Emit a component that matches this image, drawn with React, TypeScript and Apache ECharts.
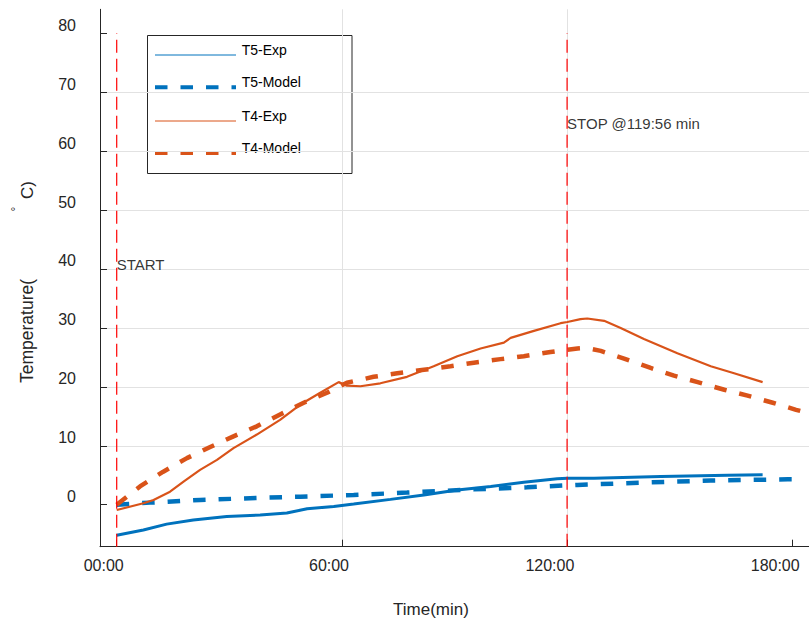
import React, { useEffect, useRef } from 'react';
import * as echarts from 'echarts';

// ---- data (time in minutes, temperature in °C) ----
const t5ExpTime = [0, 7.1, 13.3, 20.4, 29.3, 38.2, 45.3, 50.7, 57.8, 63.1, 72.9, 81.8, 90.7, 99.6, 108.4, 117.3, 120, 127.1, 144.9, 162.7, 172];
const t5ExpTemp = [-5.2, -4.3, -3.3, -2.6, -2.0, -1.75, -1.4, -0.7, -0.3, 0.1, 0.9, 1.65, 2.5, 3.1, 3.8, 4.4, 4.5, 4.5, 4.8, 5.0, 5.06];

const t5ModelTime = [0, 8.9, 22.2, 35.5, 48.9, 63.1, 77.3, 95.1, 109.3, 122.7, 140.4, 158.2, 178.7, 181];
const t5ModelTemp = [0, 0.35, 0.8, 1.1, 1.36, 1.65, 2.05, 2.6, 2.95, 3.36, 3.75, 4.1, 4.3, 4.3];

const t4ExpTime = [0, 7.1, 9.8, 14.2, 17.8, 22.2, 26.7, 31.1, 37.3, 43.5, 48.9, 54.2, 59.1, 61.3, 64.9, 70.2, 77.3, 84.4, 90.7, 96.9, 103.1, 104.9, 111.1, 118.2, 120, 123.5, 125.3, 129.8, 134.2, 140.4, 149.3, 158.2, 164.4, 172];
const t4ExpTemp = [-0.9, 0.24, 0.8, 2.2, 3.9, 5.9, 7.6, 9.6, 11.9, 14.4, 17, 19, 20.8, 20.2, 20.1, 20.6, 21.7, 23.5, 25.2, 26.5, 27.5, 28.3, 29.5, 30.8, 31.0, 31.5, 31.6, 31.2, 30.0, 28.1, 25.7, 23.5, 22.3, 20.8];

const t4ModelTime = [0, 6.2, 12.4, 18.7, 24.9, 31.1, 37.3, 43.5, 49.8, 56, 61.3, 68.4, 74.7, 81.8, 88.9, 95.1, 102.2, 108.4, 115.5, 120, 122.7, 125, 128.9, 135.1, 142.2, 148.4, 154.7, 161.8, 168, 174.7, 180.9, 185];
const t4ModelTemp = [0, 3.1, 5.6, 7.9, 9.8, 11.6, 13.3, 15.3, 17.3, 19.0, 20.7, 21.7, 22.3, 22.9, 23.5, 24.1, 24.7, 25.2, 25.9, 26.3, 26.5, 26.6, 26.1, 24.8, 23.2, 21.9, 20.8, 19.5, 18.5, 17.3, 16.1, 15.4];

const seriesNames = ['T5-Exp', 'T5-Model', 'T4-Exp', 'T4-Model'];

const xTicks = [0, 60, 120, 180];
const yTicks = [0, 10, 20, 30, 40, 50, 60, 70, 80];
const xRange = [-4.45, 184.35];
const yRange = [-7.13, 84.07];

const startTime = 0;
const stopTime = 119.93;
const markerTop = 80;
const startLabel = 'START';
const stopLabel = 'STOP @119:56 min';
const startLabelY = 40.7;
const stopLabelY = 64.7;

const BLUE = '#0072BD';
const ORANGE = '#D95319';
const FONT = 'Liberation Sans, Arial, Helvetica, sans-serif';
const TXT = '#262626';

const zip = (a: number[], b: number[]) => a.map((v, i) => [v, b[i]]);
const fmtTime = (v: number) => `${String(Math.round(v)).padStart(2, '0')}:00`;

// grid geometry
const GRID_LEFT = 100;
const GRID_W = 709;
// x tick labels are drawn right-aligned, 7 px right of their tick (as in the source figure)
const labelShiftMin = 7 / (GRID_W / (xRange[1] - xRange[0]));

export default function App() {
  const ref = useRef<HTMLDivElement>(null);
  useEffect(() => {
    const chart = echarts.init(ref.current!, null, { renderer: 'svg' });
    const modelDash = [12.5, 13];
    const legendRows = [
      { name: seriesNames[0], color: BLUE, width: 1, dash: null as any, y: 55 },
      { name: seriesNames[1], color: BLUE, width: 4, dash: modelDash, y: 87.3 },
      { name: seriesNames[2], color: ORANGE, width: 1, dash: null as any, y: 121 },
      { name: seriesNames[3], color: ORANGE, width: 4, dash: modelDash, y: 153 },
    ];
    const legendChildren: any[] = [
      { type: 'rect', shape: { x: 147.5, y: 35.5, width: 204.5, height: 138 }, style: { fill: '#fff', stroke: TXT, lineWidth: 1 } },
    ];
    legendRows.forEach((r) => {
      legendChildren.push({
        type: 'line',
        shape: { x1: 155, y1: r.y, x2: 236, y2: r.y },
        style: { stroke: r.color, lineWidth: r.width, lineDash: r.dash || undefined, lineCap: 'butt' },
      });
      legendChildren.push({
        type: 'text',
        x: 241.7,
        y: r.y - 5.5,
        style: { text: r.name, fontSize: 14, fontFamily: FONT, fill: '#000', align: 'left', verticalAlign: 'middle' },
      });
    });

    const option: any = {
      animation: false,
      backgroundColor: '#fff',
      grid: { left: GRID_LEFT, right: 0, top: 9.3, bottom: 78.3, containLabel: false, outerBoundsMode: 'none' },
      xAxis: [
        {
          type: 'value',
          min: xRange[0],
          max: xRange[1],
          axisLine: { show: true, onZero: false, lineStyle: { color: TXT, width: 1 } },
          axisTick: { show: true, inside: true, length: 7, customValues: xTicks, lineStyle: { color: TXT } },
          axisLabel: { show: false, customValues: xTicks },
          splitLine: { show: true, showMinLine: false, showMaxLine: false, lineStyle: { color: '#e2e2e2', width: 1 } },
        },
        {
          type: 'value',
          position: 'bottom',
          min: xRange[0] - labelShiftMin,
          max: xRange[1] - labelShiftMin,
          axisLine: { show: false, onZero: false },
          axisTick: { show: false, customValues: xTicks },
          splitLine: { show: false },
          axisLabel: {
            customValues: xTicks,
            formatter: (v: number) => fmtTime(v),
            color: TXT,
            fontSize: 16,
            fontFamily: FONT,
            margin: 11,
            align: 'right',
            hideOverlap: false,
          },
        },
      ],
      yAxis: {
        type: 'value',
        min: yRange[0],
        max: yRange[1],
        axisLine: { show: true, onZero: false, lineStyle: { color: TXT, width: 1 } },
        axisTick: { show: true, inside: true, length: 7, customValues: yTicks, lineStyle: { color: TXT } },
        axisLabel: {
          customValues: yTicks,
          formatter: (v: number) => String(Math.round(v)),
          color: TXT,
          fontSize: 16,
          fontFamily: FONT,
          margin: 24,
          verticalAlign: 'bottom',
          lineHeight: 16,
        },
        splitLine: { show: true, showMinLine: false, showMaxLine: false, lineStyle: { color: '#e2e2e2', width: 1 } },
      },
      series: [
        {
          name: seriesNames[0], type: 'line', data: zip(t5ExpTime, t5ExpTemp), showSymbol: false, silent: true,
          lineStyle: { color: BLUE, width: 3 }, z: 3,
        },
        {
          name: seriesNames[1], type: 'line', data: zip(t5ModelTime, t5ModelTemp), showSymbol: false, silent: true,
          lineStyle: { color: BLUE, width: 4.5, type: modelDash, cap: 'butt' }, z: 3,
        },
        {
          name: seriesNames[2], type: 'line', data: zip(t4ExpTime, t4ExpTemp), showSymbol: false, silent: true,
          lineStyle: { color: ORANGE, width: 2.2 }, z: 3,
        },
        {
          name: seriesNames[3], type: 'line', data: zip(t4ModelTime, t4ModelTemp), showSymbol: false, silent: true,
          lineStyle: { color: ORANGE, width: 4.5, type: modelDash, cap: 'butt' }, z: 3,
        },
        {
          name: 'start', type: 'line', data: [[startTime, yRange[0]], [startTime, markerTop]], showSymbol: false, silent: true,
          lineStyle: { color: '#ff0000', width: 1.2, type: [13, 6] }, z: 4,
        },
        {
          name: 'stop', type: 'line', data: [[stopTime, yRange[0]], [stopTime, markerTop]], showSymbol: false, silent: true,
          lineStyle: { color: '#ff0000', width: 1.2, type: [13, 6] }, z: 4,
        },
        {
          name: 'labels', type: 'scatter', symbolSize: 0, silent: true, z: 5,
          data: [
            { value: [startTime, startLabelY], label: { formatter: startLabel } },
            { value: [stopTime, stopLabelY], label: { formatter: stopLabel } },
          ],
          label: { show: true, position: 'right', distance: 0, color: '#000', fontSize: 15, fontFamily: FONT },
        },
      ],
      graphic: [
        { type: 'group', z: 100, children: legendChildren },
        {
          type: 'text', x: 431, y: 609, z: 100,
          style: { text: 'Time(min)', fontSize: 17, fontFamily: FONT, fill: TXT, align: 'center', verticalAlign: 'middle' },
        },
        {
          type: 'text', x: 27, y: 331, rotation: Math.PI / 2, z: 100,
          style: { text: 'Temperature(', fontSize: 17.5, fontFamily: FONT, fill: TXT, align: 'center', verticalAlign: 'middle' },
        },
        {
          type: 'text', x: 16, y: 209, rotation: Math.PI / 2, z: 100,
          style: { text: '°', fontSize: 12, fontFamily: FONT, fill: TXT, align: 'center', verticalAlign: 'middle' },
        },
        {
          type: 'text', x: 27, y: 190, rotation: Math.PI / 2, z: 100,
          style: { text: 'C)', fontSize: 17, fontFamily: FONT, fill: TXT, align: 'center', verticalAlign: 'middle' },
        },
      ],
    };
    chart.setOption(option);
    return () => chart.dispose();
  }, []);
  return <div ref={ref} style={{ position: 'fixed', left: 0, top: 0, width: 809, height: 625 }} />;
}
